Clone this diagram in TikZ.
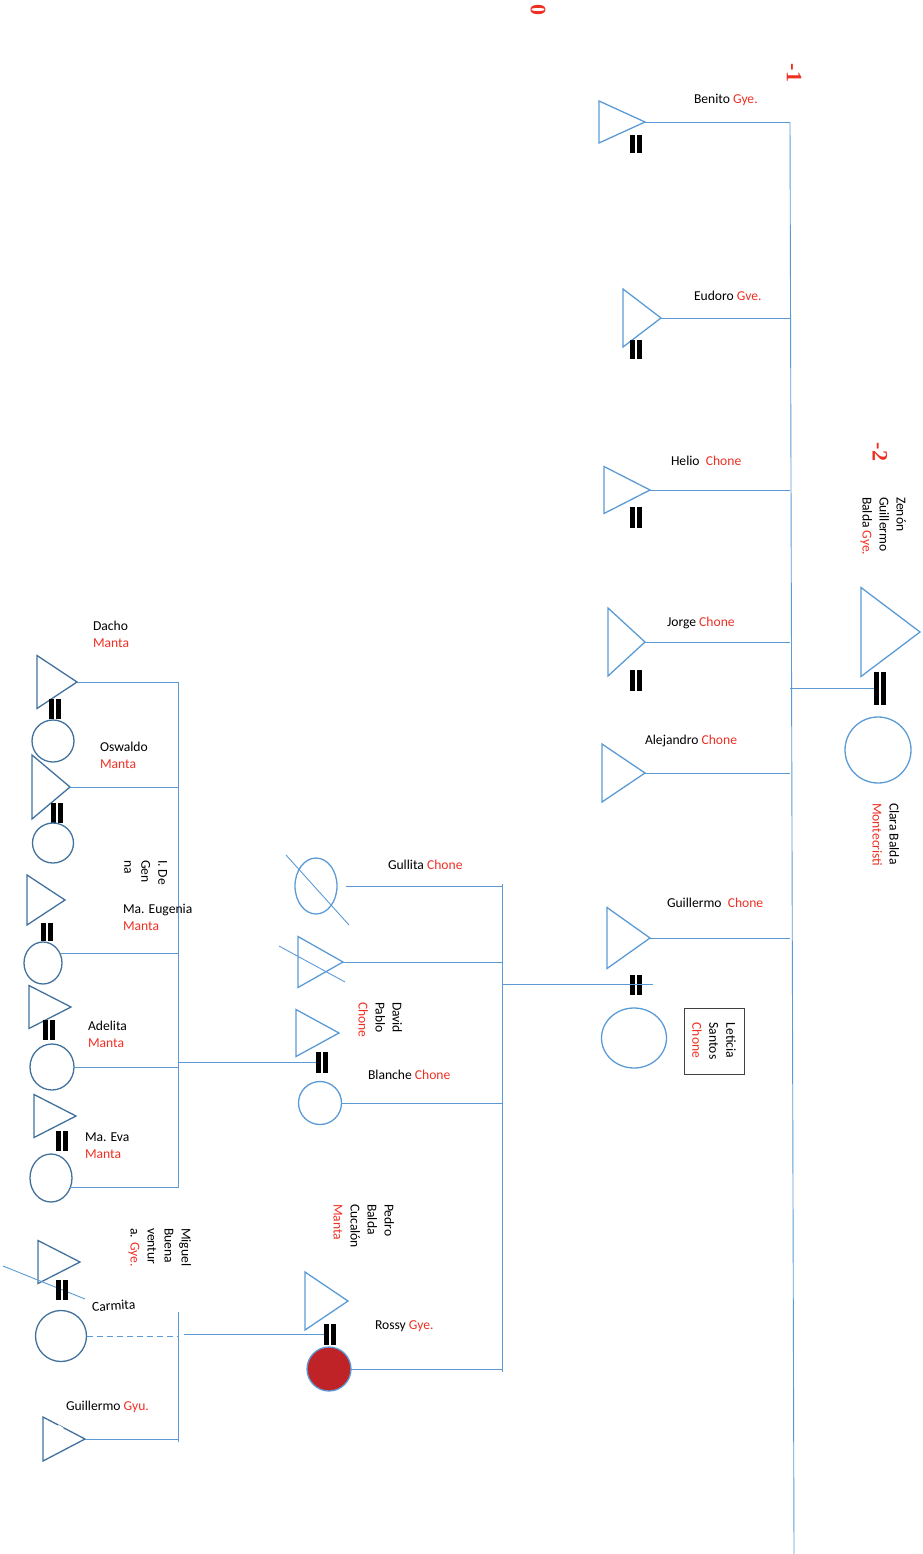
\documentclass[tikz,border=0pt]{standalone}
\usepackage{fontspec}
\setmainfont{Carlito}
\newfontfamily\numfont{Liberation Serif}
\usepackage{xcolor}
\usetikzlibrary{shapes.geometric,calc}

\definecolor{azul}{RGB}{91,155,213}
\definecolor{azulosc}{RGB}{65,113,156}
\definecolor{rojo}{RGB}{238,48,36}
\definecolor{granate}{RGB}{192,35,39}

\newcommand{\barras}[1][20pt]{\rule{4.5pt}{#1}\hspace{2.5pt}\rule{4.5pt}{#1}}
\newcommand{\rj}[1]{\textcolor{rojo}{#1}}

\begin{document}
\begin{tikzpicture}[
        x=1pt, y=-1pt,
        font=\fontsize{13.6}{17}\selectfont,
        every node/.style={inner sep=0pt, outer sep=0pt},
        % base vertical = minimum width, profundidad = minimum height
        varon/.style   ={draw=azul, line width=1.3pt, isosceles triangle, isosceles triangle stretches, anchor=apex},
        varonosc/.style={varon, draw=azulosc},
        mujer/.style   ={draw=azul, line width=1.3pt, ellipse},
        mujerosc/.style={mujer, draw=azulosc},
        matri/.style   ={inner sep=0pt},
        nombre/.style  ={anchor=west, align=left},
        vert/.style    ={rotate=-90, anchor=north west, align=left},
        linea/.style   ={azul, line width=0.9pt},
        nivel/.style   ={font=\numfont\fontsize{22}{22}\selectfont\bfseries, text=rojo, rotate=-90},
    ]
        \useasboundingbox (0,0) rectangle (922,1554);

        % --- Niveles ---
        \node[nivel] (n0) at (538,10) {0};
        \node[nivel] (n1) at (794,73) {-1};
        \node[nivel] (n2) at (880,452) {-2};

        % --- Generacion -2 (derecha) ---
        \node[varon, minimum height=59pt, minimum width=89pt] (zenon) at (920,632) {};
        \node[matri] (mZ) at (880,688) {\barras[33pt]};
        \node[mujer, minimum size=66pt] (clara) at (878,750) {};
        \node[vert] (tZenon) at (906,497) {Zenón\\Guillermo\\Balda \rj{Gye.}};
        \node[vert] (tClara) at (899,803) {Clara Balda\\\rj{Montecristi}};

        % --- Eje de hermanos (derecha) ---
        \coordinate (ejeN) at (790,122);
        \coordinate (ejeS) at (794,1554);
        \draw[linea] (ejeN) -- (ejeS);
        \draw[linea] (mZ.west) -- (mZ.west -| ejeN);

        \node[varon, minimum height=46pt, minimum width=42pt] (benito) at (645,122) {};
        \node[matri] (mB) at (636,144) {\barras[18pt]};
        \node[nombre] (tBenito) at (694,100) {Benito \rj{Gye.}};

        \node[varon, minimum height=38pt, minimum width=58pt] (eudoro) at (661,318) {};
        \node[matri] (mEu) at (636,349) {\barras[19pt]};
        \node[nombre] (tEudoro) at (694,296) {Eudoro \rj{Gve.}};

        \node[varon, minimum height=46pt, minimum width=47pt] (helio) at (650,490) {};
        \node[matri] (mH) at (636,517) {\barras[21pt]};
        \node[nombre] (tHelio) at (671,461) {Helio\ \ \rj{Chone}};

        \node[varon, minimum height=37pt, minimum width=68pt] (jorge) at (645,642) {};
        \node[matri] (mJ) at (636,680) {\barras[21pt]};
        \node[nombre] (tJorge) at (667,623) {Jorge \rj{Chone}};

        \node[varon, minimum height=43pt, minimum width=58pt] (alejandro) at (645,773) {};
        \node[nombre] (tAlejandro) at (645,741) {Alejandro \rj{Chone}};

        \node[varon, minimum height=43pt, minimum width=61pt] (guillermoC) at (650,938) {};
        \node[matri] (mG) at (636,985) {\barras};
        \node[mujer, minimum width=65pt, minimum height=60pt] (leticia) at (634,1038) {};
        \node[nombre] (tGuillermoC) at (667,903) {Guillermo\ \ \rj{Chone}};
        \node[draw=black!75, line width=0.8pt, rotate=-90, minimum width=66pt, minimum height=60pt, align=left] (tLeticia) at (714,1041) {Leticia\\Santos\\\rj{Chone}};

        \draw[linea] (benito.apex) -- (benito.apex -| ejeN);
        \draw[linea] (eudoro.apex) -- (eudoro.apex -| ejeN);
        \draw[linea] (helio.apex) -- (helio.apex -| ejeN);
        \draw[linea] (jorge.apex) -- (jorge.apex -| ejeN);
        \draw[linea] (alejandro.apex) -- (alejandro.apex -| ejeN);
        \draw[linea] (guillermoC.apex) -- (guillermoC.apex -| ejeN);

        % --- Hijos de Guillermo y Leticia (centro) ---
        \coordinate (medN) at (502,884);
        \coordinate (medS) at (502,1372);
        \coordinate (uG) at (653,984);
        \draw[linea] (medN) -- (medS);
        \draw[linea] (uG) -- (uG -| medN);

        \node[mujer, minimum width=42pt, minimum height=56pt] (gullita) at (316,886) {};
        \draw[linea] ($(gullita)+(-30,-31)$) -- ($(gullita)+(33,39)$);
        \node[nombre] (tGullita) at (388,865) {Gullita \rj{Chone}};

        \node[varon, minimum height=45pt, minimum width=51pt] (tachado) at (343,962) {};
        \draw[linea] ($(tachado.apex)+(-64,-16)$) -- ($(tachado.apex)+(2,20)$);

        \node[varon, minimum height=43pt, minimum width=47pt] (david) at (339,1033) {};
        \node[matri] (mD) at (322,1062) {\barras[21pt]};
        \node[vert] (tDavid) at (402,1002) {David\\Pablo\\\rj{Chone}};

        \node[mujer, minimum size=43pt] (blanche) at (320,1103) {};
        \node[nombre] (tBlanche) at (368,1075) {Blanche \rj{Chone}};

        \node[varon, minimum height=43pt, minimum width=58pt] (pedro) at (348,1301) {};
        \node[matri] (mP) at (330,1334) {\barras[21pt]};
        \node[vert] (tPedro) at (394,1204) {Pedro\\Balda\\Cucalón\\\rj{Manta}};
        \node[mujer, fill=granate, minimum size=44pt] (rossy) at (329,1369) {};
        \node[nombre] (tRossy) at (375,1326) {Rossy \rj{Gye.}};

        \draw[linea, shorten <=9pt] (gullita.east) -- (gullita.east -| medN);
        \draw[linea] (tachado.apex) -- (tachado.apex -| medN);
        \draw[linea] (blanche.east) -- (blanche.east -| medN);
        \draw[linea] (rossy.east) -- (rossy.east -| medN);

        % --- Hijos de David y Adelita (izquierda) ---
        \coordinate (izqN) at (178,682);
        \coordinate (izqS) at (178,1188);
        \draw[linea] (izqN) -- (izqS);

        \node[varonosc, minimum height=40pt, minimum width=53pt] (dacho) at (77,682) {};
        \node[matri] (mDa) at (55,709) {\barras};
        \node[mujerosc, minimum size=42pt] (esposaDa) at (53,741) {};
        \node[nombre] (tDacho) at (93,634) {Dacho\\\rj{Manta}};

        \node[varonosc, minimum height=38pt, minimum width=64pt] (oswaldo) at (70,787) {};
        \node[matri] (mO) at (57,813) {\barras};
        \node[mujerosc, minimum width=41pt, minimum height=40pt] (esposaO) at (53,843) {};
        \node[nombre] (tOswaldo) at (100,755) {Oswaldo\\\rj{Manta}};

        \node[varonosc, minimum height=38pt, minimum width=50pt] (genna) at (65,900) {};
        \node[matri] (mE) at (47,932) {\barras[18pt]};
        \node[mujerosc, minimum width=38pt, minimum height=42pt] (eugenia) at (43,963) {};
        \node[vert] (tGenna) at (167,860) {I. De\\Gen\\na};
        \node[nombre] (tEugenia) at (123,917) {Ma. Eugenia\\\rj{Manta}};

        \node[varonosc, minimum height=42pt, minimum width=43pt] (esposoA) at (71,1007) {};
        \node[matri] (mA) at (49,1030) {\barras};
        \node[mujerosc, minimum width=44pt, minimum height=46pt] (adelita) at (52,1067) {};
        \node[nombre] (tAdelita) at (88,1034) {Adelita\\\rj{Manta}};

        \node[varonosc, minimum height=42pt, minimum width=43pt] (esposoEv) at (76,1116) {};
        \node[matri] (mEv) at (62,1141) {\barras};
        \node[mujerosc, minimum width=42pt, minimum height=48pt] (eva) at (51,1178) {};
        \node[nombre] (tEva) at (85,1146) {Ma. Eva\\\rj{Manta}};

        \draw[linea] (dacho.apex) -- (dacho.apex -| izqN);
        \draw[linea] (oswaldo.apex) -- (oswaldo.apex -| izqN);
        \draw[linea] (eugenia.30) -- (eugenia.30 -| izqN);
        \draw[linea] (adelita.east) -- (adelita.east -| izqN);
        \draw[linea] (eva.-25) -- (eva.-25 -| izqN);
        \draw[linea] (mD.west) -- (mD.west -| izqN);

        % --- Hijos de Pedro y Rossy (abajo izquierda) ---
        \coordinate (bajN) at (178,1312);
        \coordinate (bajS) at (178,1442);
        \draw[linea] (bajN) -- (bajS);

        \node[varonosc, minimum height=42pt, minimum width=43pt] (miguel) at (80,1262) {};
        \draw[linea] ($(miguel.apex)+(-77,4)$) -- ($(miguel.apex)+(5,37)$);
        \node[matri] (mM) at (62,1290) {\barras};
        \node[vert] (tMiguel) at (191,1228) {Miguel\\Buena\\ventur\\a. \rj{Gye.}};

        \node[mujerosc, minimum size=51pt] (carmita) at (61,1336) {};
        \node[nombre, rotate=4] (tCarmita) at (92,1307) {Carmita};

        \node[varonosc, minimum height=42pt, minimum width=44pt] (guillermoG) at (85,1439) {};
        \draw[white, line width=2.5pt] ($(guillermoG.apex)+(-27,-13)$) -- ($(guillermoG.apex)+(-22,-10)$);
        \node[nombre] (tGuillermoG) at (66,1407) {Guillermo \rj{Gyu.}};

        \draw[linea, dash pattern=on 6pt off 4pt] (carmita.east) -- (carmita.east -| bajN);
        \draw[linea] (guillermoG.apex) -- (guillermoG.apex -| bajN);
        \draw[linea, shorten >=6pt] (mP.west) -- (mP.west -| bajN);
    \end{tikzpicture}
\end{document}
